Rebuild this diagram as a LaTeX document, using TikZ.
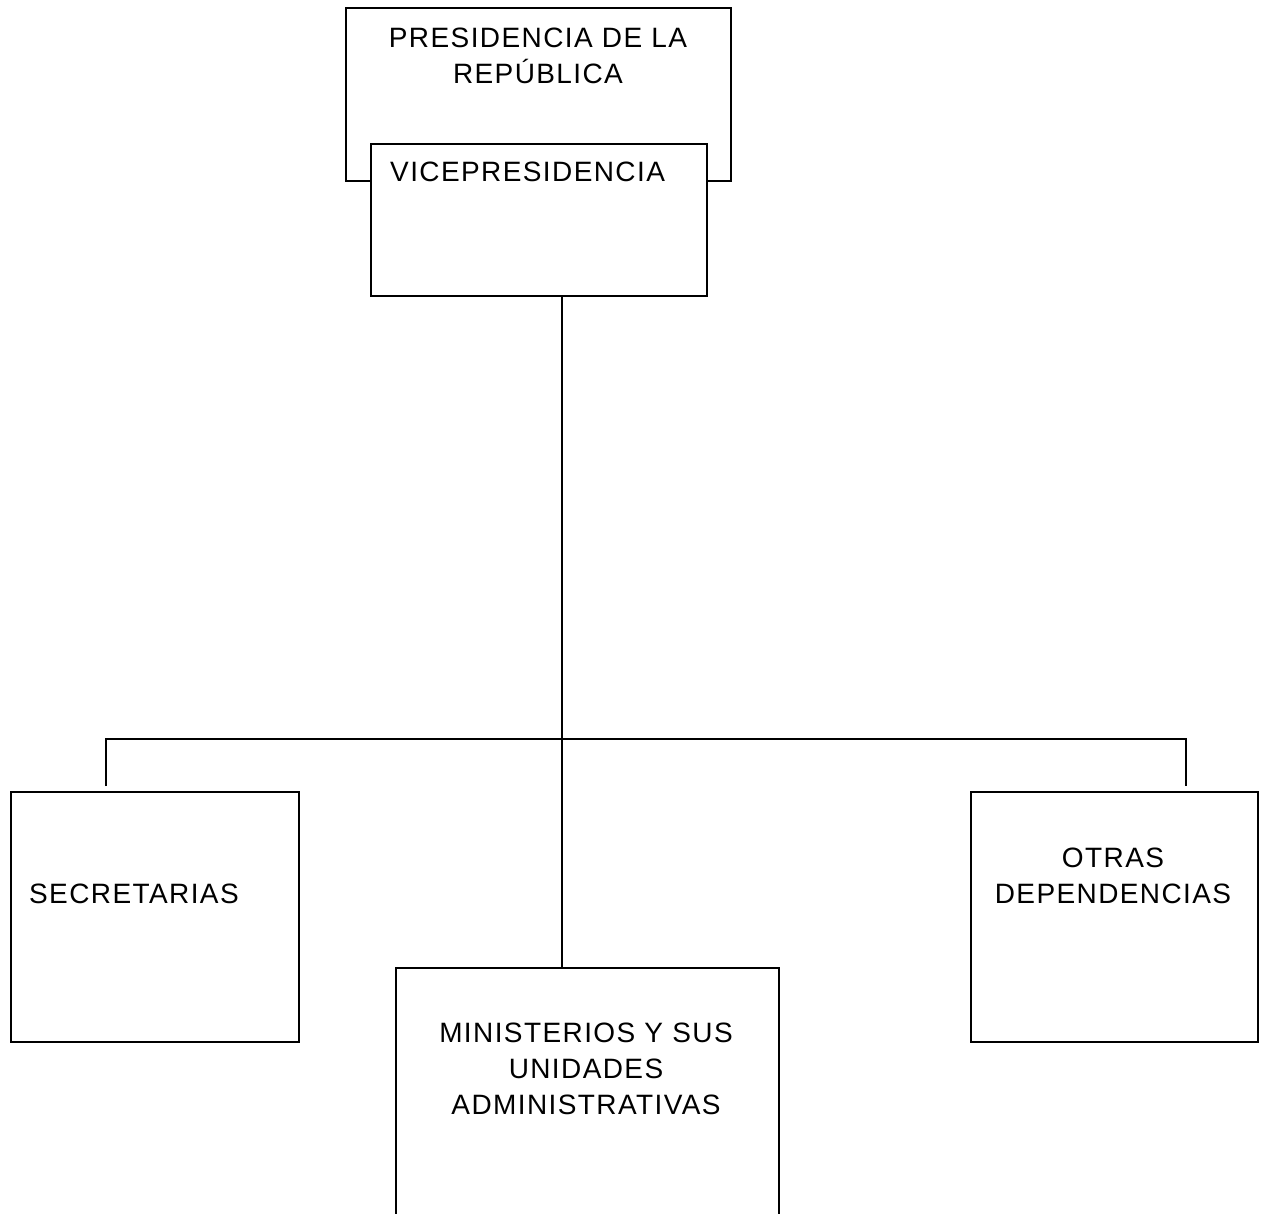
\documentclass[tikz,border=0pt]{standalone}
\usepackage{fontspec}
\setmainfont{Liberation Sans}[LetterSpace=5]
\begin{document}
\begin{tikzpicture}[x=1pt,y=-1pt,
  box/.style={draw=black, line width=1.6pt, fill=white, rectangle, inner sep=0pt, anchor=north west},
  lbl/.style={inner sep=0pt, anchor=north, align=center, font=\fontsize{28}{36}\selectfont},
  conn/.style={draw=black, line width=1.6pt}]
\useasboundingbox (0,0) rectangle (1264,1214);
% boxes
\node[box, minimum width=385pt, minimum height=173pt] (pres) at (345,7) {};
\node[box, minimum width=336pt, minimum height=152pt] (vice) at (370,143) {};
\node[box, minimum width=288pt, minimum height=250pt] (sec) at (10,791) {};
\node[box, minimum width=287pt, minimum height=250pt] (otr) at (970,791) {};
\node[box, minimum width=383pt, minimum height=270pt] (min) at (395,967) {};
% texts
\node[lbl] (presT) at (538,28) {PRESIDENCIA DE LA\\REPÚBLICA};
\node[lbl, anchor=north west] (viceT) at (390,162) {VICEPRESIDENCIA};
\node[lbl, anchor=north west] (secT) at (29,884) {SECRETARIAS};
\node[lbl] (otrT) at (1113,848) {OTRAS\\DEPENDENCIAS};
\node[lbl] (minT) at (586,1023) {MINISTERIOS Y SUS\\UNIDADES\\ADMINISTRATIVAS};
% connectors
\coordinate (j) at (562,739);
\coordinate (jl) at (106,739);
\coordinate (jr) at (1186,739);
\coordinate (el) at (106,786);
\coordinate (er) at (1186,786);
\draw[conn] (vice.south -| j) -- (min.north -| j);
\draw[conn] (el) -- (jl) -- (jr) -- (er);
\end{tikzpicture}
\end{document}
